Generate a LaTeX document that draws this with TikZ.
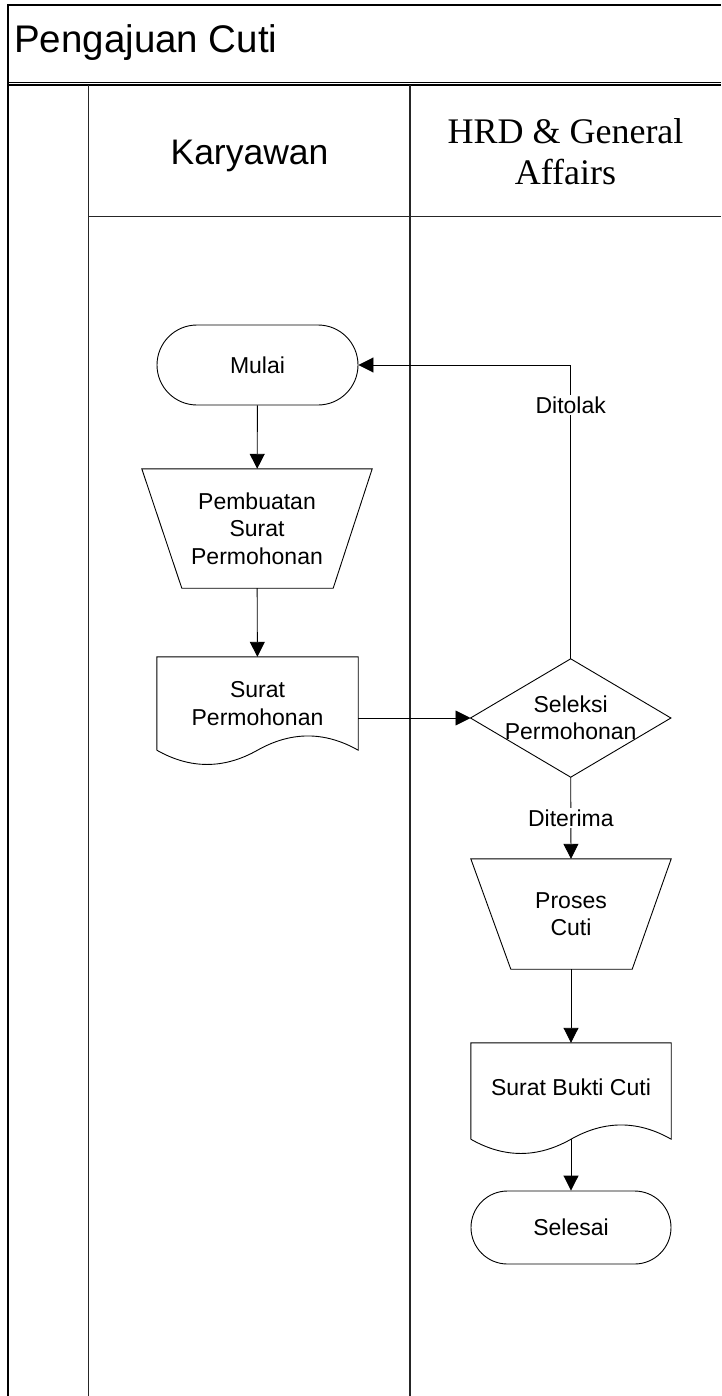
\documentclass[tikz,border=0pt]{standalone}
\usepackage{fontspec}
\setmainfont{Liberation Sans}
\newfontfamily\sansfam{Liberation Sans}
\newfontfamily\seriffam{Liberation Serif}
\usetikzlibrary{arrows.meta,calc}
\tikzset{
  frameline/.style={line width=1.6pt,black},
  laneline/.style={line width=1.1pt,black!85},
  shapeline/.style={line width=0.9pt,black},
  box/.style={draw=none,align=center,inner sep=0pt,font=\sansfam\fontsize{23}{27.5}\selectfont},
  termbox/.style={box,draw,shapeline},
  arr/.style={shapeline,-{Triangle[length=15pt,width=15pt]}},
  lbl/.style={fill=white,inner sep=2pt,font=\sansfam\fontsize{23}{27.5}\selectfont},
}
\begin{document}
\begin{tikzpicture}[x=1pt,y=-1pt]
\useasboundingbox (0,0) rectangle (721,1396);
% frame and lanes
\draw[frameline] (8,1396) -- (8,5) -- (721,5);
\draw[line width=1.1pt] (8,82.4) -- (721,82.4);
\draw[line width=1.1pt] (8,85.0) -- (721,85.0);
\draw[laneline,line width=1.4pt] (88.5,85) -- (88.5,1396);
\draw[laneline] (410,85) -- (410,1396);
\draw[laneline] (88.5,216.7) -- (721,216.7);
\node[anchor=west,inner sep=0pt,font=\sansfam\fontsize{38.5}{44}\selectfont] (title) at (14,43) {Pengajuan Cuti};
\node[align=center,inner sep=0pt,font=\sansfam\fontsize{35.5}{41}\selectfont] (lane1) at (249.5,156) {Karyawan};
\node[align=center,inner sep=0pt,font=\seriffam\fontsize{36}{41}\selectfont] (lane2) at (565.5,152) {HRD \& General\\Affairs};
% nodes
\node[termbox,minimum width=201pt,minimum height=80pt,rounded corners=40pt] (mulai) at (257.5,365) {Mulai};
\node[box,minimum width=230pt,minimum height=119pt] (pb) at (257,528.5) {Pembuatan\\Surat\\Permohonan};
\draw[shapeline] (pb.north west) -- (pb.north east) -- ($(pb.south east)+(-39,0)$) -- ($(pb.south west)+(40,0)$) -- cycle;
\node[box,minimum width=201pt,minimum height=93pt] (sp) at (257.5,703.5) {Surat\\Permohonan};
\draw[shapeline] (sp.south west) -- (sp.north west) -- (sp.north east) -- (sp.south east)
  .. controls ($(sp.south east)+(-33.5,-19)$) and ($(sp.south east)+(-67,-19)$) .. (sp.south)
  .. controls ($(sp.south west)+(67,19)$) and ($(sp.south west)+(33.5,19)$) .. (sp.south west);
\node[box,minimum width=200pt,minimum height=118pt] (sel) at (570.7,718) {Seleksi\\Permohonan};
\draw[shapeline] (sel.north) -- (sel.east) -- (sel.south) -- (sel.west) -- cycle;
\node[box,minimum width=200pt,minimum height=110pt] (pc) at (571,914) {Proses\\Cuti};
\draw[shapeline] (pc.north west) -- (pc.north east) -- ($(pc.south east)+(-39,0)$) -- ($(pc.south west)+(40,0)$) -- cycle;
\node[box,minimum width=200pt,minimum height=96pt] (sbc) at (571,1091) {\raisebox{8pt}{Surat Bukti Cuti}};
\draw[shapeline] (sbc.south west) -- (sbc.north west) -- (sbc.north east) -- (sbc.south east)
  .. controls ($(sbc.south east)+(-33.3,-19)$) and ($(sbc.south east)+(-66.7,-19)$) .. (sbc.south)
  .. controls ($(sbc.south west)+(66.7,19)$) and ($(sbc.south west)+(33.3,19)$) .. (sbc.south west);
\node[termbox,minimum width=200pt,minimum height=73pt,rounded corners=36.5pt] (selesai) at (571,1227.5) {Selesai};
% connectors
\draw[arr] (mulai) -- (pb);
\draw[arr] (pb) -- (sp);
\draw[arr] (sel.west -| sp.east) -- (sel.west);
\draw[arr] (sel.north) |- (mulai.east) node[lbl,pos=0.432] {Ditolak};
\draw[arr] (sel.south) -- (pc.north) node[lbl,midway] {Diterima};
\draw[arr] (pc) -- (sbc);
\draw[arr] (sbc.south) -- (selesai.north);
\end{tikzpicture}
\end{document}
